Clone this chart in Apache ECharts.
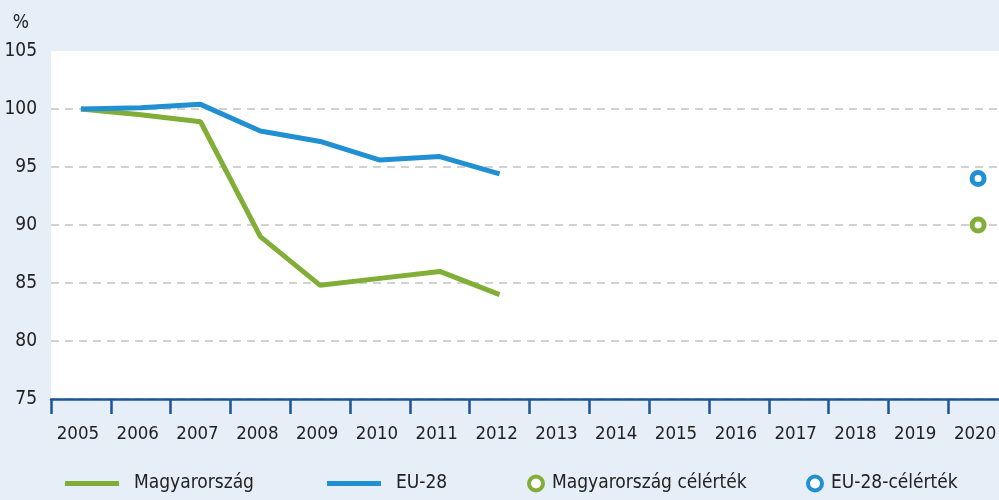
<!DOCTYPE html>
<html>
<head>
<meta charset="utf-8">
<script src="https://cdn.jsdelivr.net/npm/echarts@6/dist/echarts.min.js"></script>
<style>
  html, body { margin: 0; padding: 0; background: #e6eef8; }
  #main { width: 999px; height: 500px; }
</style>
</head>
<body>
<div id="main"></div>
<script>
const years = ['2005', '2006', '2007', '2008', '2009', '2010', '2011', '2012',
  '2013', '2014', '2015', '2016', '2017', '2018', '2019', '2020'];
const hungary = [100, 99.5, 98.9, 89.0, 84.8, 85.4, 86.0, 84.0];
const eu28 = [100, 100.1, 100.4, 98.1, 97.2, 95.6, 95.9, 94.4];
const hungaryTarget = [['2020', 90]];
const euTarget = [['2020', 94]];

const GREEN = '#80ae36';
const BLUE = '#2190d2';
const FONT = "'Liberation Sans Narrow', 'DejaVu Sans Condensed', sans-serif";

const chart = echarts.init(document.getElementById('main'));

function legendItem(name, left, color, ring) {
  return {
    data: [{
      name: name,
      itemStyle: ring
        ? { color: '#ffffff', borderColor: color, borderWidth: 4, opacity: 1 }
        : { color: color }
    }],
    left: left,
    bottom: 2,
    icon: ring ? 'circle' : 'rect',
    itemWidth: ring ? 14 : 54,
    itemHeight: ring ? 14 : 5,
    textStyle: { fontFamily: FONT, fontSize: 19, color: '#222', padding: [0, 0, 0, ring ? 4 : 10] },
    selectedMode: false
  };
}

const option = {
  backgroundColor: '#e6eef8',
  animation: false,
  grid: {
    left: 51, width: 957, top: 51, bottom: 101,
    outerBoundsMode: 'none',
    show: true, backgroundColor: '#ffffff', borderWidth: 0
  },
  legend: [
    legendItem('Magyarország', 60, GREEN, false),
    legendItem('EU-28', 322, BLUE, false),
    legendItem('Magyarország célérték', 522, GREEN, true),
    legendItem('EU-28-célérték', 801, BLUE, true)
  ],
  xAxis: {
    type: 'category',
    data: years,
    boundaryGap: true,
    axisLine: { lineStyle: { color: '#1b5596', width: 2.5 } },
    axisTick: { show: true, length: 15, lineStyle: { color: '#1b5596', width: 2.5 } },
    axisLabel: {
      fontFamily: FONT, fontSize: 18.5, color: '#222', margin: 26,
      padding: [0, 6, 0, 0], hideOverlap: false
    },
    splitLine: { show: false }
  },
  yAxis: {
    type: 'value',
    min: 75, max: 105, interval: 5,
    name: '%',
    nameLocation: 'end',
    nameGap: 18,
    nameTextStyle: { fontFamily: FONT, fontSize: 19, color: '#222', align: 'right', padding: [0, 22, 0, 0] },
    axisLine: { show: false },
    axisTick: { show: false },
    axisLabel: { fontFamily: FONT, fontSize: 19, color: '#222', margin: 14 },
    splitLine: { showMaxLine: false, lineStyle: { color: '#c4c4c4', type: [8, 6], width: 1.5 } }
  },
  series: [
    {
      name: 'Magyarország', type: 'line', data: hungary,
      symbol: 'none', z: 3,
      lineStyle: { color: GREEN, width: 5 }, itemStyle: { color: GREEN }
    },
    {
      name: 'EU-28', type: 'line', data: eu28,
      symbol: 'none', z: 4,
      lineStyle: { color: BLUE, width: 5 }, itemStyle: { color: BLUE }
    },
    {
      name: 'Magyarország célérték', type: 'scatter', data: hungaryTarget,
      symbol: 'circle', symbolSize: 12,
      itemStyle: { color: '#ffffff', borderColor: GREEN, borderWidth: 5, opacity: 1 }
    },
    {
      name: 'EU-28-célérték', type: 'scatter', data: euTarget,
      symbol: 'circle', symbolSize: 12,
      itemStyle: { color: '#ffffff', borderColor: BLUE, borderWidth: 5, opacity: 1 }
    }
  ]
};

chart.setOption(option);
</script>
</body>
</html>
